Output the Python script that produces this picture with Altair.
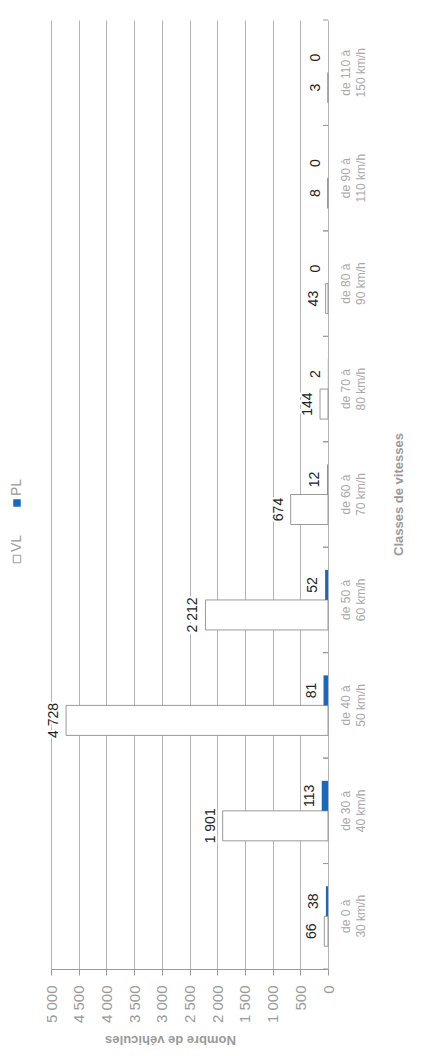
import altair as alt
import pandas as pd

# ---- data ----
classes = [
    "de 0 à 30 km/h", "de 30 à 40 km/h", "de 40 à 50 km/h", "de 50 à 60 km/h",
    "de 60 à 70 km/h", "de 70 à 80 km/h", "de 80 à 90 km/h", "de 90 à 110 km/h",
    "de 110 à 150 km/h",
]
vl = [66, 1901, 4728, 2212, 674, 144, 43, 8, 3]
pl = [38, 113, 81, 52, 12, 2, 0, 0, 0]
series = ["VL", "PL"]
x_ticks = [0, 500, 1000, 1500, 2000, 2500, 3000, 3500, 4000, 4500, 5000]

rows = []
for c, a, b in zip(classes, vl, pl):
    rows.append({"classe": c, "type": "VL", "v": a})
    rows.append({"classe": c, "type": "PL", "v": b})
df = pd.DataFrame(rows)
cat_df = pd.DataFrame({"classe": classes})

FONT = "Liberation Sans"
GREY = "#9a9a9a"
BLUE = "#1769bd"
Y_TITLE = "Classes de vitesses"

y_scale = alt.Scale(domain=classes[::-1], paddingInner=0, paddingOuter=0)

y_enc = alt.Y(
    "classe:N",
    sort=classes[::-1],
    scale=y_scale,
    title=Y_TITLE,
    axis=alt.Axis(
        orient="right", domain=False, ticks=False, tickSize=0, grid=False,
        labelAngle=270, labelAlign="center", labelBaseline="top", labelPadding=12,
        labelExpr="split(replace(datum.label, ' à ', ' à|'), '|')",
        labelLineHeight=15, labelFontSize=12, labelColor="#a8a8a8",
        labelOverlap=False, labelFont=FONT,
        titleAngle=270, titleX=70, titleY=474,
        titleAlign="center", titleBaseline="middle", titleFontSize=13,
        titleFontWeight="bold", titleColor=GREY, titleFont=FONT,
    ),
)
yoff_enc = alt.YOffset(
    "type:N", sort=["PL", "VL"],
    scale=alt.Scale(domain=["PL", "VL"], paddingInner=0, paddingOuter=0.757),
)
x_enc = alt.X(
    "v:Q",
    scale=alt.Scale(domain=[0, 5000], reverse=True, nice=False),
    axis=alt.Axis(
        values=x_ticks,
        labelExpr="replace(format(datum.value, ','), ',', ' ')",
        labelAngle=270, labelAlign="right", labelBaseline="middle", labelPadding=10,
        labelFontSize=15, labelColor=GREY, labelFont=FONT, labelOverlap=False,
        tickSize=6, tickColor="#999999", domainColor="#999999",
        grid=True, gridColor="#b3b3b3",
        title="Nombre de véhicules", titleAngle=180, titleX=119, titleY=70,
        titleAlign="center", titleBaseline="middle", titleFontSize=13,
        titleFontWeight="bold", titleColor=GREY, titleFont=FONT,
    ),
)

base = alt.Chart(df).transform_calculate(
    lbl="replace(format(datum.v, ','), ',', ' ')"
).encode(y=y_enc, yOffset=yoff_enc, x=x_enc)

bars = base.mark_bar(stroke="#999999").encode(
    color=alt.Color("type:N", scale=alt.Scale(domain=series, range=["white", BLUE]), legend=None),
    strokeWidth=alt.condition("datum.type == 'VL'", alt.value(1), alt.value(0)),
)

# dy is applied in the rotated frame: negative dy moves the label to the left
halo = base.mark_text(
    angle=270, align="center", baseline="alphabetic", dy=-8, fontSize=14,
    font=FONT, stroke="white", strokeWidth=4, color="white",
).encode(text="lbl:N")
labels = base.mark_text(
    angle=270, align="center", baseline="alphabetic", dy=-8, fontSize=14,
    font=FONT, color="#222222",
).encode(text="lbl:N")

# small separator ticks between the speed classes (inside the plot, on the axis line)
sep_start = alt.Chart(cat_df).mark_rule(color="#999999", strokeWidth=1).encode(
    y=alt.Y("classe:N", scale=y_scale, bandPosition=0, title=Y_TITLE),
    x=alt.value(272), x2=alt.value(277),
)
sep_end = alt.Chart(cat_df).mark_rule(color="#999999", strokeWidth=1).encode(
    y=alt.Y("classe:N", scale=y_scale, bandPosition=1, title=Y_TITLE),
    x=alt.value(272), x2=alt.value(277),
)

# ---- legend (drawn by hand, rotated) ----
leg_df = pd.DataFrame({"t": [0]})
leg_vl_sq = alt.Chart(leg_df).mark_square(size=56, fill="white", stroke="#999999", strokeWidth=1, opacity=1).encode(
    x=alt.value(-34), y=alt.value(539))
leg_vl_tx = alt.Chart(leg_df).mark_text(angle=270, align="left", baseline="middle", fontSize=14,
                                         font=FONT, color=GREY, text="VL").encode(
    x=alt.value(-34), y=alt.value(532))
leg_pl_sq = alt.Chart(leg_df).mark_square(size=56, color=BLUE, opacity=1).encode(
    x=alt.value(-34), y=alt.value(483))
leg_pl_tx = alt.Chart(leg_df).mark_text(angle=270, align="left", baseline="middle", fontSize=14,
                                         font=FONT, color=GREY, text="PL").encode(
    x=alt.value(-34), y=alt.value(476))

border = alt.Chart(leg_df).mark_rule(color="#dddddd", strokeWidth=1).encode(
    x=alt.value(375), y=alt.value(-20), y2=alt.value(1030))

chart = alt.layer(
    bars, halo, labels, sep_start, sep_end,
    leg_vl_sq, leg_vl_tx, leg_pl_sq, leg_pl_tx, border
).properties(
    width=277, height=949,
    autosize=alt.AutoSizeParams(type="none"),
    padding={"left": 43, "top": 12, "right": 91, "bottom": 79},
).configure(font=FONT).configure_view(stroke=None)

chart.save("out.html", embed_options={"renderer": "svg", "actions": False})
